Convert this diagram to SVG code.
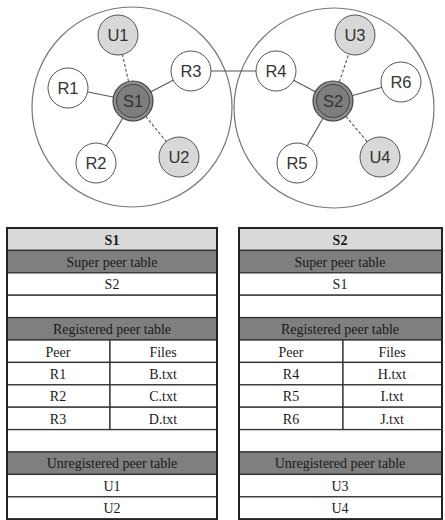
<svg xmlns="http://www.w3.org/2000/svg" width="445" height="520" viewBox="0 0 445 520">
<style>
.cluster{fill:none;stroke:#777;stroke-width:1.2}
.node{fill:#fff;stroke:#555;stroke-width:1}
.unreg{fill:#d8d8d8;stroke:#555;stroke-width:1}
.sup{fill:#8c8c8c;stroke:#444;stroke-width:1.2}
.lbl{font-family:"Liberation Sans",Arial,sans-serif;font-size:16.5px;fill:#333;text-anchor:middle}
.edge{stroke:#555;stroke-width:1.1;fill:none}
.dash{stroke:#555;stroke-width:1.1;fill:none;stroke-dasharray:3,2}
.cell{fill:#fff;stroke:#333;stroke-width:1.3}
.dark{fill:#7f7f7f;stroke:#333;stroke-width:1.3}
.light{fill:#d9d9d9;stroke:#333;stroke-width:1.3}
.t{font-family:"Liberation Serif","Times New Roman",serif;font-size:14px;fill:#1a1a1a;text-anchor:middle}
.b{font-weight:bold}
.outer{fill:none;stroke:#222;stroke-width:2}
</style>
<rect width="445" height="520" fill="#fff"/>
<circle class="cluster" cx="132" cy="107" r="100"/>
<circle class="cluster" cx="334" cy="108" r="100"/>
<g id="connectors">
<line class="edge" x1="133" y1="101" x2="68" y2="88"/>
<line class="edge" x1="133" y1="101" x2="96" y2="163"/>
<line class="edge" x1="133" y1="101" x2="191" y2="71"/>
<line class="dash" x1="133" y1="101" x2="118" y2="35"/>
<line class="dash" x1="133" y1="101" x2="179" y2="157"/>
<line class="edge" x1="333" y1="101" x2="276" y2="71"/>
<line class="edge" x1="333" y1="101" x2="297" y2="163"/>
<line class="edge" x1="333" y1="101" x2="401" y2="82"/>
<line class="dash" x1="333" y1="101" x2="355" y2="35"/>
<line class="dash" x1="333" y1="101" x2="380" y2="157"/>
<line class="edge" x1="211" y1="71" x2="256" y2="71"/>
</g>
<g id="U1"><circle class="unreg" cx="118" cy="35" r="20"/><text class="lbl" x="118" y="41">U1</text></g>
<g id="R1"><circle class="node" cx="68" cy="88" r="20"/><text class="lbl" x="68" y="94">R1</text></g>
<g id="R2"><circle class="node" cx="96" cy="163" r="20"/><text class="lbl" x="96" y="169">R2</text></g>
<g id="R3"><circle class="node" cx="191" cy="71" r="20"/><text class="lbl" x="191" y="77">R3</text></g>
<g id="U2"><circle class="unreg" cx="179" cy="157" r="20"/><text class="lbl" x="179" y="163">U2</text></g>
<g id="S1"><circle class="sup" cx="133" cy="101" r="20"/><circle cx="133" cy="101" r="16.5" fill="#7d7d7d" stroke="#444" stroke-width="1"/><text class="lbl" x="133" y="107">S1</text></g>
<g id="U3"><circle class="unreg" cx="355" cy="35" r="20"/><text class="lbl" x="355" y="41">U3</text></g>
<g id="R4"><circle class="node" cx="276" cy="71" r="20"/><text class="lbl" x="276" y="77">R4</text></g>
<g id="R5"><circle class="node" cx="297" cy="163" r="20"/><text class="lbl" x="297" y="169">R5</text></g>
<g id="R6"><circle class="node" cx="401" cy="82" r="20"/><text class="lbl" x="401" y="88">R6</text></g>
<g id="U4"><circle class="unreg" cx="380" cy="157" r="20"/><text class="lbl" x="380" y="163">U4</text></g>
<g id="S2"><circle class="sup" cx="333" cy="101" r="20"/><circle cx="333" cy="101" r="16.5" fill="#7d7d7d" stroke="#444" stroke-width="1"/><text class="lbl" x="333" y="107">S2</text></g>

<g id="table-S1">
<rect class="light" x="7" y="228" width="210" height="22.4"/>
<rect class="dark" x="7" y="250.4" width="210" height="22.4"/>
<rect class="cell" x="7" y="272.8" width="210" height="22.4"/>
<rect class="cell" x="7" y="295.2" width="210" height="22.4"/>
<rect class="dark" x="7" y="317.6" width="210" height="22.4"/>
<rect class="cell" x="7" y="340" width="103" height="22.4"/><rect class="cell" x="110" y="340" width="107" height="22.4"/>
<rect class="cell" x="7" y="362.4" width="103" height="22.4"/><rect class="cell" x="110" y="362.4" width="107" height="22.4"/>
<rect class="cell" x="7" y="384.8" width="103" height="22.4"/><rect class="cell" x="110" y="384.8" width="107" height="22.4"/>
<rect class="cell" x="7" y="407.2" width="103" height="22.4"/><rect class="cell" x="110" y="407.2" width="107" height="22.4"/>
<rect class="cell" x="7" y="429.6" width="210" height="22.4"/>
<rect class="dark" x="7" y="452" width="210" height="22.4"/>
<rect class="cell" x="7" y="474.4" width="210" height="22.4"/>
<rect class="cell" x="7" y="496.8" width="210" height="22.4"/>
<rect class="outer" x="7" y="228" width="210" height="291.2"/>
<text class="t b" x="112" y="244.5">S1</text>
<text class="t" x="112" y="266.5">Super peer table</text>
<text class="t" x="112" y="289">S2</text>
<text class="t" x="112" y="334">Registered peer table</text>
<text class="t" x="58" y="356.5">Peer</text><text class="t" x="163" y="356.5">Files</text>
<text class="t" x="58" y="379">R1</text><text class="t" x="163" y="379">B.txt</text>
<text class="t" x="58" y="401">R2</text><text class="t" x="163" y="401">C.txt</text>
<text class="t" x="58" y="423.5">R3</text><text class="t" x="163" y="423.5">D.txt</text>
<text class="t" x="112" y="468">Unregistered peer table</text>
<text class="t" x="112" y="490.5">U1</text>
<text class="t" x="112" y="513">U2</text>
</g>

<g id="table-S2">
<rect class="light" x="239" y="228" width="203" height="22.4"/>
<rect class="dark" x="239" y="250.4" width="203" height="22.4"/>
<rect class="cell" x="239" y="272.8" width="203" height="22.4"/>
<rect class="cell" x="239" y="295.2" width="203" height="22.4"/>
<rect class="dark" x="239" y="317.6" width="203" height="22.4"/>
<rect class="cell" x="239" y="340" width="104" height="22.4"/><rect class="cell" x="343" y="340" width="99" height="22.4"/>
<rect class="cell" x="239" y="362.4" width="104" height="22.4"/><rect class="cell" x="343" y="362.4" width="99" height="22.4"/>
<rect class="cell" x="239" y="384.8" width="104" height="22.4"/><rect class="cell" x="343" y="384.8" width="99" height="22.4"/>
<rect class="cell" x="239" y="407.2" width="104" height="22.4"/><rect class="cell" x="343" y="407.2" width="99" height="22.4"/>
<rect class="cell" x="239" y="429.6" width="203" height="22.4"/>
<rect class="dark" x="239" y="452" width="203" height="22.4"/>
<rect class="cell" x="239" y="474.4" width="203" height="22.4"/>
<rect class="cell" x="239" y="496.8" width="203" height="22.4"/>
<rect class="outer" x="239" y="228" width="203" height="291.2"/>
<text class="t b" x="340" y="244.5">S2</text>
<text class="t" x="340" y="266.5">Super peer table</text>
<text class="t" x="340" y="289">S1</text>
<text class="t" x="340" y="334">Registered peer table</text>
<text class="t" x="291" y="356.5">Peer</text><text class="t" x="392" y="356.5">Files</text>
<text class="t" x="291" y="379">R4</text><text class="t" x="392" y="379">H.txt</text>
<text class="t" x="291" y="401">R5</text><text class="t" x="392" y="401">I.txt</text>
<text class="t" x="291" y="423.5">R6</text><text class="t" x="392" y="423.5">J.txt</text>
<text class="t" x="340" y="468">Unregistered peer table</text>
<text class="t" x="340" y="490.5">U3</text>
<text class="t" x="340" y="513">U4</text>
</g>
</svg>
